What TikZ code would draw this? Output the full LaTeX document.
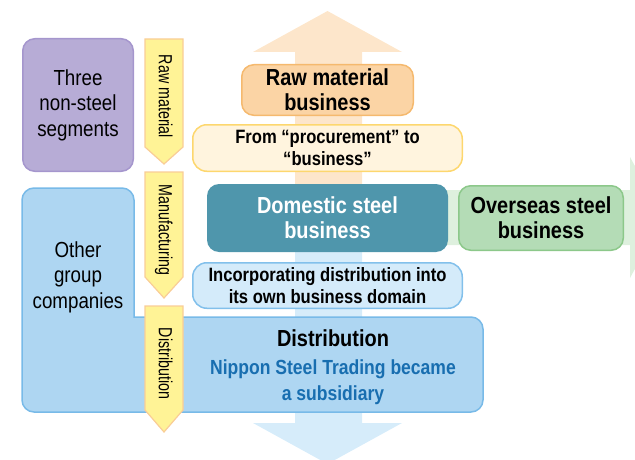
\documentclass[tikz,border=0pt]{standalone}
\usepackage{fontspec}
\setmainfont[FakeStretch=0.86]{Liberation Sans}
\newfontfamily\narrowfont[FakeStretch=0.75]{Liberation Sans}
\usetikzlibrary{positioning}

\definecolor{upcol}{RGB}{253,230,203}
\definecolor{downcol}{RGB}{214,236,250}
\definecolor{overcol}{RGB}{222,240,222}
\definecolor{purplefill}{RGB}{183,172,214}
\definecolor{purpleline}{RGB}{165,150,205}
\definecolor{groupfill}{RGB}{174,214,242}
\definecolor{groupline}{RGB}{120,186,232}
\definecolor{stagefill}{RGB}{255,243,150}
\definecolor{stageline}{RGB}{249,205,150}
\definecolor{rawfill}{RGB}{251,212,165}
\definecolor{rawline}{RGB}{245,185,110}
\definecolor{fromfill}{RGB}{255,244,222}
\definecolor{fromline}{RGB}{253,215,110}
\definecolor{domfill}{RGB}{79,150,172}
\definecolor{oversfill}{RGB}{180,220,182}
\definecolor{oversline}{RGB}{140,200,138}
\definecolor{incfill}{RGB}{212,235,250}
\definecolor{incline}{RGB}{130,192,235}
\definecolor{nsblue}{RGB}{24,110,176}

\newcommand{\headfont}{\fontsize{23.2}{25}\selectfont\bfseries}
\newcommand{\notefont}{\fontsize{19.3}{21.5}\selectfont\bfseries}
\newcommand{\sidefont}{\fontsize{21.8}{25.5}\selectfont}
\newcommand{\stagefont}{\fontsize{19}{22}\narrowfont}

% yellow stage arrow: name, top, shoulder, tip, label position, label
\newcommand{\stagearrow}[6]{%
  \draw[stage] (145,#2) -- (183,#2) -- (183,#3) -- (164,#4) -- (145,#3) -- cycle;
  \node[stagetext] (#1) at (161.5,#5) {#6};}

\begin{document}
\begin{tikzpicture}[x=1pt,y=-1pt,
  box/.style={rounded corners=12pt,line width=1.5pt,align=center,inner sep=0pt},
  stage/.style={fill=stagefill,draw=stageline,line width=1.2pt},
  stagetext/.style={rotate=-90,anchor=mid,inner sep=0pt,font=\stagefont}]
\useasboundingbox (0,0) rectangle (635,460);
\clip (0,0) rectangle (635,460);

% background arrows
\fill[upcol] (295,218) -- (295,52) -- (253,52) -- (327.5,11) -- (402,52) -- (362,52) -- (362,218) -- cycle;
\fill[downcol] (295,218) -- (295,423) -- (253,423) -- (327.5,464) -- (402,423) -- (362,423) -- (362,218) -- cycle;
\fill[overcol] (420,190) -- (630,190) -- (630,157) -- (663,217.5) -- (630,278) -- (630,245) -- (420,245) -- cycle;

% left column
\node[box,fill=purplefill,draw=purpleline,minimum width=110.5,minimum height=132.5,font=\sidefont]
  (nonsteel) at (78,105) {Three\\non-steel\\segments};
\draw[fill=groupfill,draw=groupline,line width=1.5pt]
  (22,300) [rounded corners=12pt] -- (22,188) -- (134,188) [sharp corners] -- (134,317)
  [rounded corners=12pt] -- (483,317) -- (483,412) -- (22,412) -- cycle;
\node[align=center,font=\sidefont] (group) at (78,277) {Other\\group\\companies};

% stages
\stagearrow{rawstage}{39}{147}{164}{96.5}{Raw material}
\stagearrow{manustage}{172}{277}{298}{230}{Manufacturing}
\stagearrow{diststage}{306}{410}{432}{363.5}{Distribution}

% businesses
\node[box,fill=rawfill,draw=rawline,minimum width=171.5,minimum height=50.5,font=\headfont]
  (rawmat) at (327.5,90) {Raw material\\business};
\node[box,rounded corners=14pt,fill=fromfill,draw=fromline,minimum width=269.5,minimum height=46.5,font=\notefont]
  (procure) at (327.5,148) {From “procurement” to\\“business”};
\node[box,fill=domfill,text=white,minimum width=241,minimum height=68,font=\headfont]
  (domestic) at (327.5,218) {Domestic steel\\business};
\node[box,fill=oversfill,draw=oversline,minimum width=164.5,minimum height=64.5,font=\headfont]
  (overseas) at (541,218) {Overseas steel\\business};
\node[box,rounded corners=14pt,fill=incfill,draw=incline,minimum width=269.5,minimum height=45.5,font=\notefont]
  (incorp) at (327.5,285.5) {Incorporating distribution into\\its own business domain};
\node[font=\headfont,inner sep=0pt] (disttitle) at (333,338) {Distribution};
\node[below=13pt of disttitle,align=center,text=nsblue,inner sep=0pt,
  font=\fontsize{20.4}{26}\selectfont\bfseries] (trading) {Nippon Steel Trading became\\a subsidiary};
\end{tikzpicture}
\end{document}
